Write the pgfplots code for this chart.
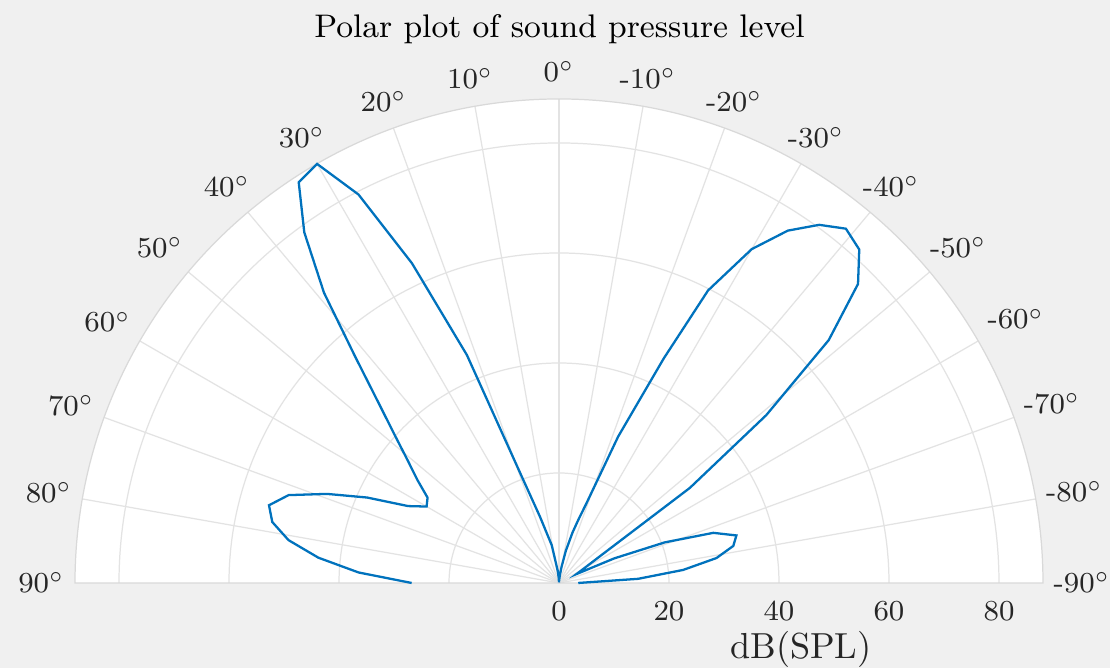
\documentclass[border=0pt]{standalone}
\usepackage{pgfplots}
\pgfplotsset{compat=1.18}
\usepackage{pgfplotstable}
\definecolor{figbg}{HTML}{F0F0F0}
\definecolor{gridc}{HTML}{E3E3E3}
\definecolor{edgec}{HTML}{D9D9D9}
\definecolor{mblue}{HTML}{0072BD}
\definecolor{txt}{HTML}{262626}
\pgfplotstableread{
theta r
-90 3.5
-87 14.4
-84 22.7
-81 29.0
-78 32.4
-75 33.4
-72 29.5
-69 20.6
-66 11.0
-63 3.6
-60 5.1
-57 8.6
-54 29.4
-51 48.5
-48 66.0
-45 76.9
-42 81.6
-39 82.9
-36 80.5
-33 76.4
-30 70.1
-27 59.7
-25 45.0
-22 28.7
-19 15.3
-17 12.0
-15 9.5
-12 6.0
-9 3.0
-6 1.3
-3 0.4
0 0.1
3 0.9
6 2.2
8.7 3.6
10.9 7.0
16.0 12.5
19.1 19.8
22.0 44.7
24.7 64.0
27.3 79.5
30 88.0
33 86.9
36 78.8
39 67.9
42 55.4
45 46.5
48 40.2
51 35.4
54 31.8
57 28.5
60 27.8
63 30.8
66 38.2
69 45.2
72 51.7
75 54.6
78 53.3
81 49.8
84 44.0
87 36.5
90 26.8
}\spl
\begin{document}
\begin{tikzpicture}
\useasboundingbox (0,0) rectangle (11.1,6.68);
\fill[figbg] (0,0) rectangle (11.1,6.68);
\begin{scope}[shift={(5.59,0.85)}]
  \fill[white] (4.84,0) arc[start angle=0,end angle=180,radius=4.84] -- cycle;
  \foreach \rr in {1.1,2.2,3.3,4.4}
    \draw[gridc, line width=0.35pt] (\rr,0) arc[start angle=0,end angle=180,radius=\rr];
  \foreach \a in {10,20,...,170}
    \draw[gridc, line width=0.35pt] (0,0) -- (\a:4.84);
  \draw[edgec, line width=0.35pt] (4.84,0) arc[start angle=0,end angle=180,radius=4.84] -- cycle;
\end{scope}
\begin{axis}[x=0.055cm, y=0.055cm,
  xmin=-101.636, xmax=100.182, ymin=-15.4545, ymax=106,
  hide axis, clip=false, anchor=origin, at={(5.59cm,0.85cm)}]
\addplot[mblue, line width=0.65pt, no markers, data cs=polar]
  table[x expr=\thisrow{theta}+90, y=r]{\spl};
\end{axis}
\begin{scope}[shift={(5.59,0.85)}, every node/.style={inner sep=0pt, text=txt,
    font=\fontsize{8.25}{10}\selectfont, text height=0.75em, text depth=0.2em}]
  \foreach \a/\anc/\lab in {0/180/-90,10/190/-80,20/200/-70,30/210/-60,40/220/-50,
     50/230/-40,60/240/-30,70/250/-20,80/260/-10,90/270/0,100/280/10,110/290/20,
     120/300/30,130/310/40,140/320/50,150/330/60,160/340/70,170/350/80,180/0/90}
    \node[anchor=\anc] at (\a:4.94) {\lab$^\circ$};
\end{scope}
\foreach \k/\lab in {0/0,1/20,2/40,3/60,4/80}
  \node[anchor=base, inner sep=0pt, text=txt, font=\fontsize{8.25}{10}\selectfont]
    at ({5.59+1.1*\k},0.47) {\lab};
\node[anchor=base, inner sep=0pt, text=txt, font=\fontsize{10.3}{12}\selectfont]
  at (8.01,0.09) {dB(SPL)};
\node[anchor=base, inner sep=0pt, text=black, font=\fontsize{9.3}{11}\selectfont]
  at (5.595,6.30) {Polar plot of sound pressure level};
\end{tikzpicture}
\end{document}
